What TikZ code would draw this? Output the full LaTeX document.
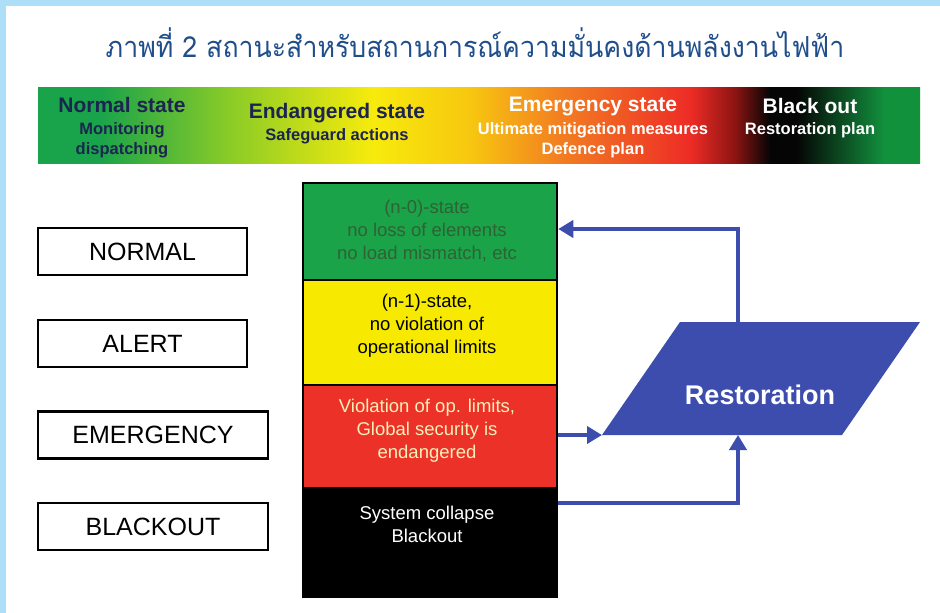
\documentclass[tikz,border=0pt]{standalone}
\usepackage{fontspec}
\setmainfont{Liberation Sans}
\newfontfamily\thaifont[Script=Thai]{Loma}
\usetikzlibrary{arrows.meta}

\definecolor{frameblue}{HTML}{ADDFF9}
\definecolor{titleblue}{HTML}{1F4E8A}
\definecolor{navy}{HTML}{1C2450}
\definecolor{sgreen}{HTML}{1BA34A}
\definecolor{syellow}{HTML}{F7EA00}
\definecolor{sred}{HTML}{EC3128}
\definecolor{restblue}{HTML}{3C4DAD}
\definecolor{ntext}{HTML}{2F6234}
\definecolor{cream}{HTML}{F8F0B8}

\pgfdeclarehorizontalshading{barshade}{100bp}{%
rgb(0bp)=(0.10,0.64,0.29);
rgb(25bp)=(0.10,0.64,0.29);
rgb(28.5bp)=(0.10,0.64,0.29);
rgb(36bp)=(0.55,0.80,0.15);
rgb(44bp)=(0.97,0.92,0.05);
rgb(49.5bp)=(0.97,0.78,0.06);
rgb(54.5bp)=(0.95,0.50,0.13);
rgb(62bp)=(0.93,0.17,0.15);
rgb(64.5bp)=(0.55,0.08,0.07);
rgb(66.5bp)=(0.02,0.02,0.02);
rgb(68bp)=(0.02,0.02,0.02);
rgb(73bp)=(0.07,0.57,0.24);
rgb(75bp)=(0.07,0.57,0.24);
rgb(100bp)=(0.07,0.57,0.24)}

\tikzset{
  bartitle/.style={font=\fontsize{21}{21}\selectfont\bfseries, inner sep=0pt},
  barsub/.style={font=\fontsize{16.5}{16.5}\selectfont\bfseries, inner sep=0pt},
  statebox/.style={draw=black, line width=2.5pt, fill=white, inner sep=0pt,
    font=\fontsize{25}{25}\selectfont, minimum height=47pt},
  stackbox/.style={draw=black, line width=2.5pt, inner sep=0pt, minimum width=254pt},
  stacktext/.style={font=\fontsize{18.5}{23}\selectfont, align=center, inner sep=0pt},
  conn/.style={draw=restblue, line width=4pt, -{Triangle[length=15pt,width=17pt]}}
}

\begin{document}
\begin{tikzpicture}[x=1pt,y=-1pt]
\useasboundingbox (0,0) rectangle (940,613);
\fill[white] (0,0) rectangle (940,613);
\fill[frameblue] (0,0) rectangle (940,6);
\fill[frameblue] (0,0) rectangle (6,613);

% title
\node[font=\thaifont\fontsize{29}{32}\selectfont, text=titleblue, inner sep=0pt, xscale=0.92] (title) at (475,43)
  {ภาพที่ 2 สถานะสำหรับสถานการณ์ความมั่นคงด้านพลังงานไฟฟ้า};

% gradient bar
\shade[shading=barshade] (38,87) rectangle (920,163);
\node[bartitle, text=navy] (ns) at (122,105) {Normal state};
\node[barsub, text=navy] (ns1) at (122,130) {Monitoring};
\node[barsub, text=navy] (ns2) at (122,150) {dispatching};
\node[bartitle, text=navy] (es) at (337,113) {Endangered state};
\node[barsub, text=navy] (es1) at (337,136) {Safeguard actions};
\node[bartitle, text=white] (ems) at (593,106) {Emergency state};
\node[barsub, text=white] (ems1) at (593,130) {Ultimate mitigation measures};
\node[barsub, text=white] (ems2) at (593,150) {Defence plan};
\node[bartitle, text=white] (bo) at (810,106) {Black out};
\node[barsub, text=white] (bo1) at (810,130) {Restoration plan};

% left state boxes
\node[statebox, minimum width=209pt] (normal) at (142.5,251.5) {NORMAL};
\node[statebox, minimum width=209pt] (alert) at (142.5,343.5) {ALERT};
\node[statebox, minimum width=230pt] (emerg) at (153,435) {EMERGENCY};
\node[statebox, minimum width=230pt] (black) at (153,526.5) {BLACKOUT};

% central stack
\node[stackbox, fill=sgreen, minimum height=97pt] (s0) at (430,231.5) {};
\node[stackbox, fill=syellow, minimum height=105pt] (s1) at (430,332.5) {};
\node[stackbox, fill=sred, minimum height=103pt] (s2) at (430,436.5) {};
\node[stackbox, fill=black, minimum height=109pt] (s3) at (430,542.5) {};
\node[stacktext, text=ntext] (t0) at (427,231) {(n-0)-state\\no loss of elements\\no load mismatch, etc};
\node[stacktext, text=black] (t1) at (427,325.5) {(n-1)-state,\\no violation of\\operational limits};
\node[stacktext, text=cream] (t2) at (427,430.5) {Violation of op. limits,\\Global security is\\endangered};
\node[stacktext, text=white] (t3) at (427,524) {System collapse\\Blackout};

% restoration parallelogram
\coordinate (rtl) at (680,322);
\coordinate (rtr) at (920,322);
\coordinate (rbr) at (842,435);
\coordinate (rbl) at (602,435);
\fill[restblue] (rtl) -- (rtr) -- (rbr) -- (rbl) -- cycle;
\node[font=\fontsize{27}{27}\selectfont\bfseries, text=white, inner sep=0pt] (rest) at (760,395) {Restoration};
\coordinate (rtop) at (738,322);
\coordinate (rbot) at (738,435);

% connectors
\draw[conn] (rtop) |- (s0.east |- 0,229);
\draw[conn] (s2.east |- 0,435) -- (rbl);
\draw[conn] (s3.east |- 0,503) -| (rbot);
\end{tikzpicture}
\end{document}
